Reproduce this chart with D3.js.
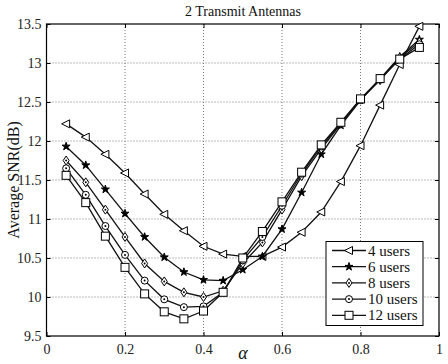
<!DOCTYPE html>
<html>
<head>
<meta charset="utf-8">
<script src="https://cdn.jsdelivr.net/npm/d3@7"></script>
<style>
  body { margin: 0; background: #fff; }
  svg { display: block; }
</style>
</head>
<body>
<svg id="chart" width="448" height="364"></svg>
<script>
// --- Data ---
const alphas = [0.05, 0.1, 0.15, 0.2, 0.25, 0.3, 0.35, 0.4, 0.45, 0.5,
                0.55, 0.6, 0.65, 0.7, 0.75, 0.8, 0.85, 0.9, 0.95];
const users4  = [12.22, 12.05, 11.83, 11.59, 11.32, 11.06, 10.85, 10.65, 10.55, 10.52, 10.52, 10.64, 10.83, 11.09, 11.48, 11.94, 12.46, 12.98, 13.47];
const users6  = [11.93, 11.69, 11.38, 11.07, 10.77, 10.51, 10.32, 10.22, 10.21, 10.35, 10.52, 10.87, 11.34, 11.83, 12.20, 12.52, 12.80, 13.08, 13.30];
const users8  = [11.75, 11.47, 11.12, 10.77, 10.43, 10.20, 10.06, 10.00, 10.08, 10.43, 10.70, 11.12, 11.55, 11.90, 12.22, 12.53, 12.78, 13.07, 13.27];
const users10 = [11.65, 11.31, 10.91, 10.54, 10.21, 9.97, 9.87, 9.88, 10.06, 10.47, 10.77, 11.17, 11.58, 11.93, 12.23, 12.53, 12.79, 13.05, 13.24];
const users12 = [11.56, 11.21, 10.78, 10.38, 10.04, 9.81, 9.72, 9.82, 10.06, 10.50, 10.84, 11.22, 11.60, 11.95, 12.24, 12.54, 12.80, 13.05, 13.20];

const seriesNames = ['4 users', '6 users', '8 users', '10 users', '12 users'];
const seriesValues = [users4, users6, users8, users10, users12];
const markerKinds = ['triangleLeft', 'star', 'diamond', 'circle', 'square'];

const xTicks = [0, 0.2, 0.4, 0.6, 0.8, 1];
const yTicks = [9.5, 10, 10.5, 11, 11.5, 12, 12.5, 13, 13.5];

// --- Layout ---
const svg = d3.select('#chart');
const plotLeft = 46.5, plotRight = 439, plotTop = 24, plotBottom = 336;
const serif = '"Liberation Serif"';

const x = d3.scaleLinear().domain([0, 1]).range([plotLeft, plotRight]);
const y = d3.scaleLinear().domain([9.5, 13.5]).range([plotBottom, plotTop]);

// grid
svg.append('g').selectAll('line')
  .data(xTicks.slice(1, -1)).enter().append('line')
  .attr('x1', d => x(d)).attr('x2', d => x(d))
  .attr('y1', plotTop).attr('y2', plotBottom)
  .attr('stroke', '#777').attr('stroke-width', 1).attr('stroke-dasharray', '1,2');
svg.append('g').selectAll('line')
  .data(yTicks.slice(1, -1)).enter().append('line')
  .attr('x1', plotLeft).attr('x2', plotRight)
  .attr('y1', d => y(d)).attr('y2', d => y(d))
  .attr('stroke', '#777').attr('stroke-width', 1).attr('stroke-dasharray', '1,2');

// axes (ticks inward)
const fmt = d => String(d);
svg.append('g').attr('transform', `translate(0,${plotBottom})`)
  .call(d3.axisBottom(x).tickValues(xTicks).tickFormat(fmt).tickSizeInner(-4).tickSizeOuter(0).tickPadding(8));
svg.append('g').attr('transform', `translate(0,${plotTop})`)
  .call(d3.axisTop(x).tickValues(xTicks).tickFormat('').tickSizeInner(-4).tickSizeOuter(0));
svg.append('g').attr('transform', `translate(${plotLeft},0)`)
  .call(d3.axisLeft(y).tickValues(yTicks).tickFormat(fmt).tickSizeInner(-4).tickSizeOuter(0).tickPadding(5));
svg.append('g').attr('transform', `translate(${plotRight},0)`)
  .call(d3.axisRight(y).tickValues(yTicks).tickFormat('').tickSizeInner(-4).tickSizeOuter(0));

svg.selectAll('.domain').remove();
svg.selectAll('.tick line').attr('stroke', '#000');
svg.selectAll('.tick text').style('font-family', serif).attr('font-size', 14).attr('fill', '#222');

svg.append('rect')
  .attr('x', plotLeft).attr('y', plotTop).attr('width', plotRight - plotLeft).attr('height', plotBottom - plotTop)
  .attr('fill', 'none').attr('stroke', '#000').attr('stroke-width', 1.2);

// --- Markers ---
function drawMarker(g, kind, cx, cy) {
  if (kind === 'triangleLeft') {
    g.append('path')
      .attr('d', `M${cx - 4.5},${cy} L${cx + 3.5},${cy - 4} L${cx + 3.5},${cy + 4} Z`)
      .attr('fill', '#fff').attr('stroke', '#000').attr('stroke-width', 1);
  } else if (kind === 'star') {
    g.append('path')
      .attr('d', d3.symbol().type(d3.symbolStar).size(20)())
      .attr('transform', `translate(${cx},${cy})`)
      .attr('fill', '#000').attr('stroke', '#000').attr('stroke-width', 1);
  } else if (kind === 'diamond') {
    g.append('path')
      .attr('d', `M${cx},${cy - 4.5} L${cx + 3},${cy} L${cx},${cy + 4.5} L${cx - 3},${cy} Z`)
      .attr('fill', '#fff').attr('stroke', '#000').attr('stroke-width', 1);
    g.append('circle').attr('cx', cx).attr('cy', cy).attr('r', 1).attr('fill', '#000');
  } else if (kind === 'circle') {
    g.append('circle').attr('cx', cx).attr('cy', cy).attr('r', 3.5)
      .attr('fill', '#fff').attr('stroke', '#000').attr('stroke-width', 1);
    g.append('circle').attr('cx', cx).attr('cy', cy).attr('r', 1).attr('fill', '#000');
  } else {
    g.append('rect').attr('x', cx - 4).attr('y', cy - 4).attr('width', 8).attr('height', 8)
      .attr('fill', '#fff').attr('stroke', '#000').attr('stroke-width', 1);
  }
}

// --- Series ---
const line = d3.line().x((d, i) => x(alphas[i])).y(d => y(d));
seriesValues.forEach((vals, s) => {
  const g = svg.append('g');
  g.append('path').attr('d', line(vals))
    .attr('fill', 'none').attr('stroke', '#111').attr('stroke-width', 1.3);
  vals.forEach((v, i) => drawMarker(g, markerKinds[s], x(alphas[i]), y(v)));
});

// --- Legend ---
const lg = svg.append('g');
lg.append('rect').attr('x', 326).attr('y', 241.5).attr('width', 97).attr('height', 84)
  .attr('fill', '#fff').attr('stroke', '#000').attr('stroke-width', 1);
seriesNames.forEach((name, i) => {
  const ly = 250.5 + i * 16.2;
  lg.append('line').attr('x1', 332).attr('x2', 366).attr('y1', ly).attr('y2', ly)
    .attr('stroke', '#111').attr('stroke-width', 1.3);
  drawMarker(lg, markerKinds[i], 349, ly);
  lg.append('text').attr('x', 368).attr('y', ly + 5).style('font-family', serif)
    .attr('font-size', 15).attr('fill', '#111').text(name);
});

// --- Titles ---
svg.append('text').attr('x', 243).attr('y', 16).attr('text-anchor', 'middle').style('font-family', serif)
  .attr('font-size', 14).attr('fill', '#111').text('2 Transmit Antennas');
svg.append('text').attr('transform', `translate(19,${(plotTop + plotBottom) / 2}) rotate(-90)`)
  .attr('text-anchor', 'middle').style('font-family', serif)
  .attr('font-size', 16).attr('fill', '#111').text('Average SNR(dB)');
svg.append('text').attr('x', 243).attr('y', 359).attr('text-anchor', 'middle').style('font-family', serif)
  .attr('font-size', 18).attr('font-style', 'italic').attr('fill', '#111').text('α');
</script>
</body>
</html>
